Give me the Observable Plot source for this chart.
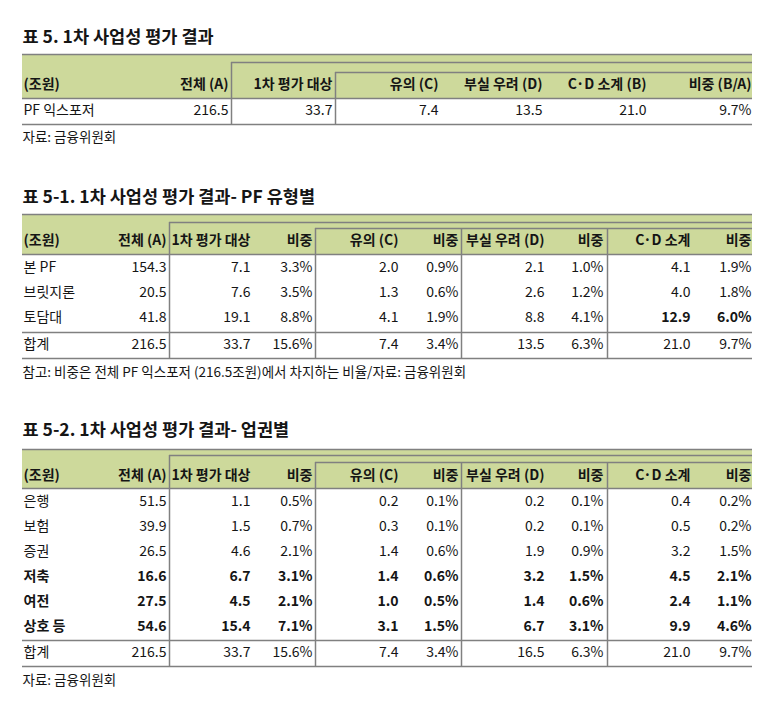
<!DOCTYPE html>
<html>
<head>
<meta charset="utf-8">
<script src="https://cdn.jsdelivr.net/npm/d3@7"></script>
<script src="https://cdn.jsdelivr.net/npm/@observablehq/plot@0.6"></script>
<style>
  html, body { margin: 0; padding: 0; background: #fff; }
  #chart svg { display: block; }
</style>
</head>
<body>
<div id="chart"></div>
<script>
// ---------- DATA ----------
// Table 5
const title1 = "표 5. 1차 사업성 평가 결과";
const headers1 = ["(조원)", "전체 (A)", "1차 평가 대상", "유의 (C)", "부실 우려 (D)", "C·D 소계 (B)", "비중 (B/A)"];
const rows1 = ["PF 익스포저"];
const total1 = [216.5];
const first1 = [33.7];
const caution1 = [7.4];
const insolvency1 = [13.5];
const cdSum1 = [21.0];
const cdShare1 = [9.7];
const source1 = "자료: 금융위원회";

// Table 5-1
const title2 = "표 5-1. 1차 사업성 평가 결과- PF 유형별";
const headers2 = ["(조원)", "전체 (A)", "1차 평가 대상", "비중", "유의 (C)", "비중", "부실 우려 (D)", "비중", "C·D 소계", "비중"];
const rows2 = ["본 PF", "브릿지론", "토담대", "합계"];
const total2 = [154.3, 20.5, 41.8, 216.5];
const first2 = [7.1, 7.6, 19.1, 33.7];
const firstShare2 = [3.3, 3.5, 8.8, 15.6];
const caution2 = [2.0, 1.3, 4.1, 7.4];
const cautionShare2 = [0.9, 0.6, 1.9, 3.4];
const insolvency2 = [2.1, 2.6, 8.8, 13.5];
const insolvencyShare2 = [1.0, 1.2, 4.1, 6.3];
const cdSum2 = [4.1, 4.0, 12.9, 21.0];
const cdShare2 = [1.9, 1.8, 6.0, 9.7];
const source2 = "참고: 비중은 전체 PF 익스포저 (216.5조원)에서 차지하는 비율/자료: 금융위원회";

// Table 5-2
const title3 = "표 5-2. 1차 사업성 평가 결과- 업권별";
const headers3 = ["(조원)", "전체 (A)", "1차 평가 대상", "비중", "유의 (C)", "비중", "부실 우려 (D)", "비중", "C·D 소계", "비중"];
const rows3 = ["은행", "보험", "증권", "저축", "여전", "상호 등", "합계"];
const total3 = [51.5, 39.9, 26.5, 16.6, 27.5, 54.6, 216.5];
const first3 = [1.1, 1.5, 4.6, 6.7, 4.5, 15.4, 33.7];
const firstShare3 = [0.5, 0.7, 2.1, 3.1, 2.1, 7.1, 15.6];
const caution3 = [0.2, 0.3, 1.4, 1.4, 1.0, 3.1, 7.4];
const cautionShare3 = [0.1, 0.1, 0.6, 0.6, 0.5, 1.5, 3.4];
const insolvency3 = [0.2, 0.2, 1.9, 3.2, 1.4, 6.7, 16.5];
const insolvencyShare3 = [0.1, 0.1, 0.9, 1.5, 0.6, 3.1, 6.3];
const cdSum3 = [0.4, 0.5, 3.2, 4.5, 2.4, 9.9, 21.0];
const cdShare3 = [0.2, 0.2, 1.5, 2.1, 1.1, 4.6, 9.7];
const source3 = "자료: 금융위원회";

// emphasis (bold) cells: [rowIndex, columnIndex]
const bold2 = [[2, 8], [2, 9]];
const boldRows3 = [3, 4, 5];

// ---------- LAYOUT ----------
const FONT = "'Noto Sans CJK KR', 'Noto Sans', sans-serif";
const HEAD_BG = "#cdd99b";
const LINE = "#808080";
const INK = "#151515";
const L = 22, R = 752;
const TITLE_SIZE = 17.5, BODY_SIZE = 14, NOTE_SIZE = 13.5;

const num = v => v.toFixed(1);
const pct = v => v.toFixed(1) + "%";

const texts = [];
const rects = [];
const hrules = [];
const vrules = [];

function addText(x, y, text, anchor, weight, size) {
  texts.push({x, y, text, anchor, weight: weight || 400, size: size || BODY_SIZE});
}

// Table 5
{
  const colX = [L + 1, 228, 332, 438, 542, 646, 751];
  const top = 54, headBottom = 98, bottom = 124;
  addText(L, 37, title1, "start", 700, TITLE_SIZE);
  rects.push({x1: L, x2: R, y1: top, y2: headBottom});
  hrules.push({y: top, x1: L, x2: R}, {y: 62, x1: 231, x2: R}, {y: 72, x1: 335, x2: R},
              {y: headBottom, x1: L, x2: R}, {y: bottom, x1: L, x2: R});
  vrules.push({x: 231, y1: 62, y2: bottom}, {x: 335, y1: 72, y2: bottom});
  headers1.forEach((h, j) => addText(colX[j], 84, h, j === 0 ? "start" : "end", 700));
  rows1.forEach((r, i) => {
    const y = 110 + i * 25;
    const vals = [r, num(total1[i]), num(first1[i]), num(caution1[i]), num(insolvency1[i]), num(cdSum1[i]), pct(cdShare1[i])];
    vals.forEach((v, j) => addText(colX[j], y, v, j === 0 ? "start" : "end", 400));
  });
  addText(L, 137, source1, "start", 400, NOTE_SIZE);
}

const colX23 = [L + 1, 166, 250, 312, 398, 458, 544, 603, 690, 751];

function wideTable(opts) {
  const {title, titleY, headers, rows, cols, top, inner1, inner2, headBottom, headY, rowY0, sep, bottom, source, sourceY, isBold} = opts;
  addText(L, titleY, title, "start", 700, TITLE_SIZE);
  rects.push({x1: L, x2: R, y1: top, y2: headBottom});
  hrules.push({y: top, x1: L, x2: R}, {y: inner1, x1: 169, x2: R}, {y: inner2, x1: 315, x2: R},
              {y: headBottom, x1: L, x2: R}, {y: sep, x1: L, x2: R}, {y: bottom, x1: L, x2: R});
  vrules.push({x: 169, y1: inner1, y2: bottom}, {x: 315, y1: inner2, y2: bottom},
              {x: 461, y1: inner2, y2: bottom}, {x: 607, y1: inner2, y2: bottom});
  headers.forEach((h, j) => addText(colX23[j], headY, h, j === 0 ? "start" : "end", 700));
  rows.forEach((r, i) => {
    const y = i === rows.length - 1 ? sep + 12 : rowY0 + i * opts.pitch;
    const vals = [r, num(cols[0][i]), num(cols[1][i]), pct(cols[2][i]), num(cols[3][i]), pct(cols[4][i]),
                  num(cols[5][i]), pct(cols[6][i]), num(cols[7][i]), pct(cols[8][i])];
    vals.forEach((v, j) => addText(colX23[j], y, v, j === 0 ? "start" : "end", isBold(i, j) ? 700 : 400));
  });
  addText(L, sourceY, source, "start", 400, NOTE_SIZE);
}

wideTable({
  title: title2, titleY: 197, headers: headers2, rows: rows2,
  cols: [total2, first2, firstShare2, caution2, cautionShare2, insolvency2, insolvencyShare2, cdSum2, cdShare2],
  top: 214, inner1: 222, inner2: 228, headBottom: 254, headY: 240, rowY0: 267, pitch: 25,
  sep: 332, bottom: 358, source: source2, sourceY: 372,
  isBold: (i, j) => bold2.some(([a, b]) => a === i && b === j)
});

wideTable({
  title: title3, titleY: 430, headers: headers3, rows: rows3,
  cols: [total3, first3, firstShare3, caution3, cautionShare3, insolvency3, insolvencyShare3, cdSum3, cdShare3],
  top: 449, inner1: 455, inner2: 462, headBottom: 488, headY: 475, rowY0: 501, pitch: 25.1,
  sep: 640, bottom: 666, source: source3, sourceY: 680,
  isBold: (i, j) => boldRows3.includes(i)
});

// ---------- PLOT ----------
const groups = d3.groups(texts, d => d.anchor, d => d.weight, d => d.size);
const textMarks = [];
for (const [anchor, byWeight] of groups)
  for (const [weight, bySize] of byWeight)
    for (const [size, items] of bySize)
      textMarks.push(Plot.text(items, {
        x: "x", y: "y", text: "text", textAnchor: anchor, fontWeight: weight, fontSize: size,
        fill: INK, fontFamily: FONT
      }));

const chart = Plot.plot({
  width: 782,
  height: 706,
  margin: 0,
  x: {type: "identity", axis: null},
  y: {type: "identity", axis: null},
  style: {fontFamily: FONT, background: "#fff"},
  marks: [
    Plot.rect(rects, {x1: "x1", x2: "x2", y1: "y1", y2: "y2", fill: HEAD_BG}),
    Plot.ruleY(hrules, {y: "y", x1: "x1", x2: "x2", stroke: LINE, strokeWidth: 1.5}),
    Plot.ruleX(vrules, {x: "x", y1: "y1", y2: "y2", stroke: LINE, strokeWidth: 1.5}),
    ...textMarks
  ]
});
document.getElementById("chart").appendChild(chart);
</script>
</body>
</html>
